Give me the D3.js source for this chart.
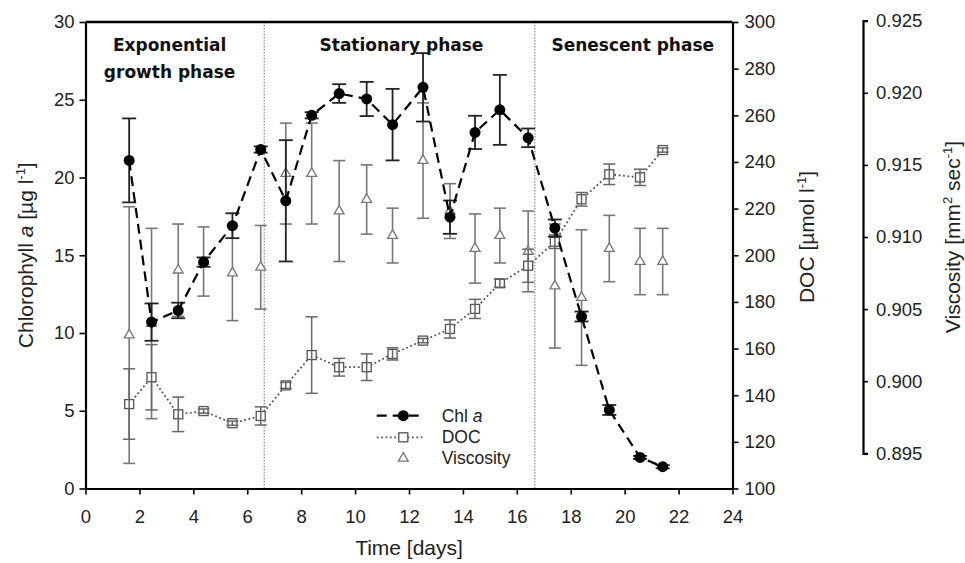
<!DOCTYPE html>
<html>
<head>
<meta charset="utf-8">
<script src="https://cdn.jsdelivr.net/npm/d3@7"></script>
<style>
  html, body { margin: 0; padding: 0; background: #fff; }
  svg { display: block; }
  text { font-family: "Liberation Sans", Arial, sans-serif; fill: #222; }
  .phase { font-family: "DejaVu Sans", sans-serif; font-weight: bold; fill: #111; }
</style>
</head>
<body>
<svg id="chart" width="965" height="563"></svg>
<script>
// ---------------- data ----------------
const days    = [1.62, 2.45, 3.44, 4.38, 5.45, 6.50, 7.43, 8.39, 9.41, 10.43, 11.39, 12.52, 13.52, 14.45, 15.37, 16.42, 17.41, 18.40, 19.43, 20.57, 21.41];
const chl     = [21.1, 10.7, 11.45, 14.56, 16.9, 21.8, 18.5, 24.0, 25.4, 25.05, 23.4, 25.8, 17.45, 22.9, 24.35, 22.55, 16.75, 11.06, 5.05, 2.0, 1.4];
const chlErr  = [2.7, 1.2, 0.5, 0.3, 0.8, 0.2, 3.9, 0.2, 0.6, 1.1, 2.3, 2.2, 1.07, 1.07, 2.25, 0.6, 0.55, 0.32, 0.32, 0.1, 0.1];
const doc     = [136.2, 147.7, 131.8, 133.2, 128.0, 131.1, 144.2, 157.2, 152.0, 152.0, 157.7, 163.4, 168.4, 177.0, 188.0, 195.5, 205.8, 224.0, 234.7, 233.4, 245.1];
const docErr  = [15.1, 14.0, 7.4, 0.9, 0.9, 3.9, 1.3, 16.4, 3.8, 5.7, 2.6, 0.9, 3.9, 4.1, 1.7, 7.1, 2.9, 2.9, 4.4, 3.5, 0.9];
const visc    = [0.9032, 0.9040, 0.9077, 0.9083, 0.9075, 0.9079, 0.9144, 0.9144, 0.9118, 0.9126, 0.9101, 0.9153, 0.9118, 0.9092, 0.9101, 0.9090, 0.9066, 0.9058, 0.9092, 0.9083, 0.9083];
const viscErr = [0.0089, 0.0066, 0.0032, 0.0024, 0.0033, 0.0029, 0.0035, 0.0035, 0.0035, 0.0024, 0.0019, 0.0040, 0.0019, 0.0024, 0.0019, 0.0028, 0.0043, 0.0047, 0.0023, 0.0023, 0.0023];

const xTicks    = [0, 2, 4, 6, 8, 10, 12, 14, 16, 18, 20, 22, 24];
const chlTicks  = [0, 5, 10, 15, 20, 25, 30];
const docTicks  = [100, 120, 140, 160, 180, 200, 220, 240, 260, 280, 300];
const viscTicks = [0.895, 0.900, 0.905, 0.910, 0.915, 0.920, 0.925];
const phaseBounds = [6.63, 16.67];
const phaseNames  = [["Exponential", "growth phase"], ["Stationary phase"], ["Senescent phase"]];
const phaseCenters = [3.12, 11.72, 20.3];
const legendNames = ["Chl a", "DOC", "Viscosity"];

// ---------------- layout ----------------
const svg = d3.select("#chart");
const L = 85.5, R = 732.5, T = 22, B = 488.5;
const VT = 20.7, VB = 453.3, VX = 863;

const x = d3.scaleLinear().domain([0, 24]).range([L, R]);
const yC = d3.scaleLinear().domain([0, 30]).range([B, T]);
const yD = d3.scaleLinear().domain([100, 300]).range([B, T]);
const yV = d3.scaleLinear().domain([0.895, 0.925]).range([VB, VT]);

const FS = 18.5;

// phase separators
svg.selectAll("line.phaseline").data(phaseBounds).enter().append("line")
  .attr("x1", d => x(d)).attr("x2", d => x(d)).attr("y1", T).attr("y2", B)
  .attr("stroke", "#777").attr("stroke-width", 1).attr("stroke-dasharray", "1.5,1.5");

// top frame
svg.append("line").attr("x1", L).attr("x2", R).attr("y1", T).attr("y2", T)
  .attr("stroke", "#000").attr("stroke-width", 2.5);

// axes
function styleAxis(g) {
  g.select(".domain").attr("stroke", "#000").attr("stroke-width", 2.2);
  g.selectAll(".tick line").attr("stroke", "#000").attr("stroke-width", 1.6);
  g.selectAll(".tick text").attr("font-size", FS).attr("fill", "#222")
    .style("font-family", '"Liberation Sans", Arial, sans-serif');
}
const gx = svg.append("g").attr("transform", `translate(0,${B})`)
  .call(d3.axisBottom(x).tickValues(xTicks).tickSize(6).tickPadding(15).tickSizeOuter(0).tickFormat(d3.format("d")));
styleAxis(gx);
const gl = svg.append("g").attr("transform", `translate(${L},0)`)
  .call(d3.axisLeft(yC).tickValues(chlTicks).tickSize(6).tickPadding(5).tickSizeOuter(0).tickFormat(d3.format("d")));
styleAxis(gl);
const gr = svg.append("g").attr("transform", `translate(${R},0)`)
  .call(d3.axisRight(yD).tickValues(docTicks).tickSize(6).tickPadding(6).tickSizeOuter(0).tickFormat(d3.format("d")));
styleAxis(gr);
const gv = svg.append("g").attr("transform", `translate(${VX},0)`)
  .call(d3.axisRight(yV).tickValues(viscTicks).tickSize(5).tickPadding(8).tickSizeOuter(5).tickFormat(d3.format(".3f")));
styleAxis(gv);

// axis titles
svg.append("text").attr("x", (L + R) / 2).attr("y", 555)
  .attr("text-anchor", "middle").attr("font-size", 21).text("Time [days]");

function rotTitle(cx, cy, parts) {
  const t = svg.append("text").attr("transform", `translate(${cx},${cy}) rotate(-90)`)
    .attr("text-anchor", "middle").attr("font-size", 21);
  parts.forEach(p => {
    const s = t.append("tspan").text(p.t);
    if (p.it) s.attr("font-style", "italic");
    if (p.sup) s.attr("font-size", 13).attr("dy", -8);
    if (p.down) s.attr("dy", 8);
  });
}
rotTitle(33, (T + B) / 2, [{t: "Chlorophyll "}, {t: "a", it: true}, {t: " [µg l"}, {t: "-1", sup: true}, {t: "]", down: true}]);
rotTitle(814, 237, [{t: "DOC [µmol l"}, {t: "-1", sup: true}, {t: "]", down: true}]);
rotTitle(960, (VT + VB) / 2, [{t: "Viscosity [mm"}, {t: "2", sup: true}, {t: " sec", down: true}, {t: "-1", sup: true}, {t: "]", down: true}]);

// phase labels
phaseNames.forEach((lines, i) => {
  lines.forEach((ln, j) => {
    svg.append("text").attr("class", "phase").attr("x", x(phaseCenters[i]))
      .attr("y", 51 + j * 27).attr("text-anchor", "middle").attr("font-size", 17).text(ln);
  });
});

const idx = d3.range(days.length);

// ---------- viscosity (triangles + error bars) ----------
const gV = svg.append("g");
const vCap = 6;
idx.forEach(i => {
  const xi = x(days[i]);
  const y1 = yV(visc[i] + viscErr[i]), y2 = yV(visc[i] - viscErr[i]);
  gV.append("line").attr("x1", xi).attr("x2", xi).attr("y1", y1).attr("y2", y2)
    .attr("stroke", "#777").attr("stroke-width", 1.6);
  [y1, y2].forEach(yy => gV.append("line").attr("x1", xi - vCap).attr("x2", xi + vCap)
    .attr("y1", yy).attr("y2", yy).attr("stroke", "#777").attr("stroke-width", 1.6));
});
gV.selectAll("path.tri").data(idx).enter().append("path")
  .attr("d", d3.symbol().type(d3.symbolTriangle).size(42))
  .attr("transform", i => `translate(${x(days[i])},${yV(visc[i])})`)
  .attr("fill", "#fff").attr("stroke", "#777").attr("stroke-width", 1.3);

// ---------- DOC ----------
const gD = svg.append("g");
gD.append("path").datum(idx)
  .attr("d", d3.line().x(i => x(days[i])).y(i => yD(doc[i])))
  .attr("fill", "none").attr("stroke", "#555").attr("stroke-width", 1.8).attr("stroke-dasharray", "1.8,2.6");
gD.selectAll("rect.sq").data(idx).enter().append("rect")
  .attr("x", i => x(days[i]) - 4.5).attr("y", i => yD(doc[i]) - 4.5)
  .attr("width", 9).attr("height", 9)
  .attr("fill", "#fff").attr("stroke", "#555").attr("stroke-width", 1.3);
const dCap = 6;
idx.forEach(i => {
  const xi = x(days[i]);
  const y1 = yD(doc[i] + docErr[i]), y2 = yD(doc[i] - docErr[i]);
  gD.append("line").attr("x1", xi).attr("x2", xi).attr("y1", y1).attr("y2", y2)
    .attr("stroke", "#666").attr("stroke-width", 1.5);
  [y1, y2].forEach(yy => gD.append("line").attr("x1", xi - dCap).attr("x2", xi + dCap)
    .attr("y1", yy).attr("y2", yy).attr("stroke", "#666").attr("stroke-width", 1.5));
});

// ---------- Chl a ----------
const gC = svg.append("g");
const cCap = 7;
idx.forEach(i => {
  const xi = x(days[i]);
  const y1 = yC(chl[i] + chlErr[i]), y2 = yC(chl[i] - chlErr[i]);
  gC.append("line").attr("x1", xi).attr("x2", xi).attr("y1", y1).attr("y2", y2)
    .attr("stroke", "#222").attr("stroke-width", 1.8);
  [y1, y2].forEach(yy => gC.append("line").attr("x1", xi - cCap).attr("x2", xi + cCap)
    .attr("y1", yy).attr("y2", yy).attr("stroke", "#222").attr("stroke-width", 1.8));
});
gC.append("path").datum(idx)
  .attr("d", d3.line().x(i => x(days[i])).y(i => yC(chl[i])))
  .attr("fill", "none").attr("stroke", "#000").attr("stroke-width", 2.2).attr("stroke-dasharray", "10,6");
gC.selectAll("circle").data(idx).enter().append("circle")
  .attr("cx", i => x(days[i])).attr("cy", i => yC(chl[i])).attr("r", 5.5).attr("fill", "#000");

// ---------- legend ----------
const lg = svg.append("g");
const lx1 = 376.7, lx2 = 423.3, lmx = 403.3, ltx = 441.7;
const ly = [415.7, 437.3, 458.3];
lg.append("line").attr("x1", lx1).attr("x2", lx2).attr("y1", ly[0]).attr("y2", ly[0])
  .attr("stroke", "#000").attr("stroke-width", 2.2).attr("stroke-dasharray", "10,6");
lg.append("circle").attr("cx", lmx).attr("cy", ly[0]).attr("r", 5.5).attr("fill", "#000");
lg.append("line").attr("x1", lx1).attr("x2", lx2).attr("y1", ly[1]).attr("y2", ly[1])
  .attr("stroke", "#555").attr("stroke-width", 1.8).attr("stroke-dasharray", "1.8,2.6");
lg.append("rect").attr("x", lmx - 4.5).attr("y", ly[1] - 4.5).attr("width", 9).attr("height", 9)
  .attr("fill", "#fff").attr("stroke", "#555").attr("stroke-width", 1.3);
lg.append("path").attr("d", d3.symbol().type(d3.symbolTriangle).size(42))
  .attr("transform", `translate(${lmx},${ly[2]})`)
  .attr("fill", "#fff").attr("stroke", "#777").attr("stroke-width", 1.3);
legendNames.forEach((n, i) => {
  const t = lg.append("text").attr("x", ltx).attr("y", ly[i]).attr("dy", "0.35em").attr("font-size", 17.5);
  if (n === "Chl a") {
    t.append("tspan").text("Chl ");
    t.append("tspan").attr("font-style", "italic").text("a");
  } else {
    t.text(n);
  }
});
</script>
</body>
</html>
